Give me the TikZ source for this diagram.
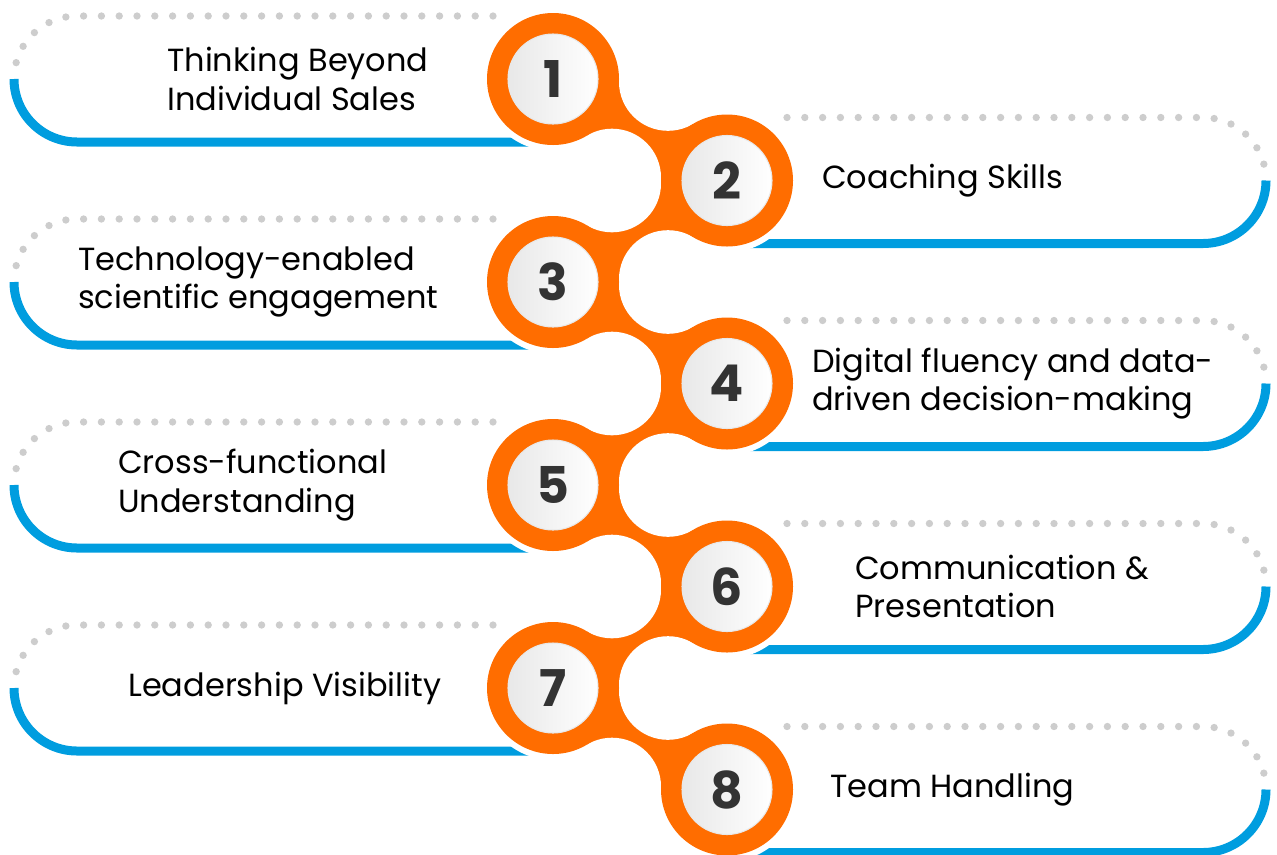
\documentclass[tikz,border=0pt]{standalone}
\usepackage{fontspec}
\setmainfont{Poppins}
\definecolor{orng}{RGB}{255,109,0}
\definecolor{skyblue}{RGB}{0,157,223}
\definecolor{dotgray}{RGB}{205,205,205}
\definecolor{digitgray}{RGB}{51,51,51}
\begin{document}
\begin{tikzpicture}[x=0.75pt,y=0.75pt,yscale=-1,
  dotline/.style={draw=dotgray,line width=5.5pt,line cap=round,dash pattern=on 0pt off 13.35pt},
  blueline/.style={draw=skyblue,line width=6.75pt},
  halo/.style={circle,fill=white,minimum size=108pt,inner sep=0pt},
  orangeball/.style={circle,fill=orng,minimum size=99pt,inner sep=0pt},
  numball/.style={circle,minimum size=67.5pt,inner sep=0pt,left color=black!9,right color=white,draw=black!9,line width=0.8pt,
    text=digitgray,font=\fontsize{38}{40}\selectfont\bfseries},
  label/.style={anchor=west,align=left,inner sep=0pt,text=black,font=\fontsize{24}{28.8}\selectfont}]
\useasboundingbox (0,0) rectangle (1277,854);
% cards on the left
\foreach \cy in {79,282,485,688}{
  \draw[dotline] (493,\cy-63) -- (77,\cy-63) arc[start angle=-90,end angle=-180,radius=63];
  \draw[blueline] (14,\cy) arc[start angle=180,end angle=90,radius=63] -- (560,\cy+63);
}
% cards on the right
\foreach \cy in {180.5,383.5,586.5,789.5}{
  \draw[dotline] (787,\cy-63) -- (1203,\cy-63) arc[start angle=-90,end angle=0,radius=63];
  \draw[blueline] (1266,\cy) arc[start angle=0,end angle=90,radius=63] -- (720,\cy+63);
}
% white halos
\foreach \i/\x/\y in {1/553/79,2/727/180.5,3/553/282,4/727/383.5,5/553/485,6/727/586.5,7/553/688,8/727/789.5}{
  \node[halo] (h\i) at (\x,\y) {};
}
% bridges
\foreach \ya in {79,282,485,688}{
  \fill[orng] (618.98,\ya+1.61) -- (693.12,\ya+44.87) -- (661.02,\ya+99.89) -- (586.88,\ya+56.63) -- cycle;
}
\foreach \ya in {180.5,383.5,586.5}{
  \fill[orng] (661.02,\ya+1.61) -- (586.88,\ya+44.87) -- (618.98,\ya+99.89) -- (693.12,\ya+56.63) -- cycle;
}
\foreach \ya in {79,282,485,688}{
  \fill[white] (667.97,\ya+2.81) circle[radius=49];
  \fill[white] (612.03,\ya+98.69) circle[radius=49];
}
\foreach \ya in {180.5,383.5,586.5}{
  \fill[white] (612.03,\ya+2.81) circle[radius=49];
  \fill[white] (667.97,\ya+98.69) circle[radius=49];
}
% circles and numbers
\foreach \i/\x/\y in {1/553/79,2/727/180.5,3/553/282,4/727/383.5,5/553/485,6/727/586.5,7/553/688,8/727/789.5}{
  \node[orangeball] (c\i) at (\x,\y) {};
  \node[numball] (n\i) at (c\i) {\i};
}
% labels
\node[label] (t1) at (167,79) {Thinking Beyond\\Individual Sales};
\node[label] (t2) at (822,180.5) {Coaching Skills};
\node[label] (t3) at (78,282) {Technology-enabled\\scientific engagement};
\node[label] (t4) at (812,383.5) {Digital fluency and data-\\driven decision-making};
\node[label] (t5) at (118,485) {Cross-functional\\Understanding};
\node[label] (t6) at (855,586.5) {Communication \&\\Presentation};
\node[label] (t7) at (128,688) {Leadership Visibility};
\node[label] (t8) at (830,789.5) {Team Handling};
\end{tikzpicture}
\end{document}
